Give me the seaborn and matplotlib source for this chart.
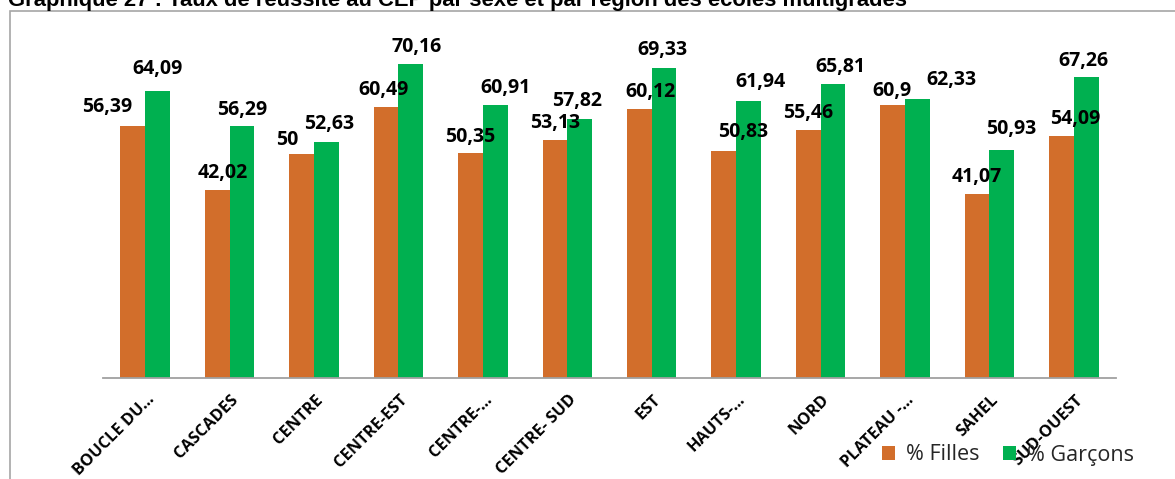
import matplotlib
matplotlib.use("Agg")
import matplotlib.pyplot as plt
import matplotlib.transforms as mtransforms
from matplotlib.patches import Rectangle, Patch
import seaborn as sns
import pandas as pd

# ---- data ----
regions = ["BOUCLE DU...", "CASCADES", "CENTRE", "CENTRE-EST", "CENTRE-...",
           "CENTRE- SUD", "EST", "HAUTS-...", "NORD", "PLATEAU -...", "SAHEL",
           "SUD-OUEST"]
filles = [56.39, 42.02, 50, 60.49, 50.35, 53.13, 60.12, 50.83, 55.46, 60.9, 41.07, 54.09]
garcons = [64.09, 56.29, 52.63, 70.16, 60.91, 57.82, 69.33, 61.94, 65.81, 62.33, 50.93, 67.26]
filles_labels = ["56,39", "42,02", "50", "60,49", "50,35", "53,13", "60,12", "50,83",
                 "55,46", "60,9", "41,07", "54,09"]
garcons_labels = ["64,09", "56,29", "52,63", "70,16", "60,91", "57,82", "69,33", "61,94",
                  "65,81", "62,33", "50,93", "67,26"]
series_names = ["% Filles", "% Garçons"]
title = "Graphique 27 : Taux de réussite au CEP par sexe et par région des écoles multigrades"

# ---- label placement (pixels, relative to bar centre / bar top) ----
dx_f = [-26, 6, -14, -3, 0, 0, 11, 19, 0, -1, 0, 14]
dy_f = [14, 12, 9, 12, 11, 12.5, 12, 14, 11.5, 9.5, 12.5, 12]
dx_g = [0, 0, 3, 6, 10, -3, -2, 12, 7, 34, 9, -3]
dy_g = [17, 11, 13.5, 12, 12, 13, 12.7, 14, 12, 14, 16, 11]

ORANGE = "#D26E2B"
GREEN = "#00B050"

df = pd.DataFrame({
    "region": regions * 2,
    "serie": [series_names[0]] * len(regions) + [series_names[1]] * len(regions),
    "value": filles + garcons,
})

sns.set_theme(style="white")
W, H = 1175, 479
fig = plt.figure(figsize=(W / 100, H / 100), dpi=100)
fig.patch.set_facecolor("white")

ax_l, ax_r, ax_b = 103 / W, 1116 / W, 1 - 378 / H
ymax = 80
ax_t = 1 - (378 - ymax * 4.475) / H
ax = fig.add_axes([ax_l, ax_b, ax_r - ax_l, ax_t - ax_b])
ax.set_facecolor("none")

sns.barplot(data=df, x="region", y="value", hue="serie", order=regions,
            hue_order=series_names, palette=[ORANGE, GREEN], width=0.587,
            saturation=1, linewidth=0, ax=ax, legend=False)

ax.set_ylim(0, ymax)
ax.set_xlim(-0.5, len(regions) - 0.5)
ax.set_xlabel("")
ax.set_ylabel("")
ax.set_yticks([])
for s in ["left", "right", "top"]:
    ax.spines[s].set_visible(False)
ax.spines["bottom"].set_color("#A0A0A0")
ax.spines["bottom"].set_linewidth(1.3)

ax.tick_params(axis="x", length=0, pad=10)
ax.set_xticks(range(len(regions)))
ax.set_xticklabels(regions, rotation=45, ha="right", va="top",
                   rotation_mode="anchor", family="Open Sans",
                   fontweight="bold", fontsize=11.8, color="#000000")
shift = mtransforms.ScaledTranslation(1 / 100, 0, fig.dpi_scale_trans)
for lab in ax.get_xticklabels():
    lab.set_transform(lab.get_transform() + shift)

lab_kw = dict(textcoords="offset pixels", ha="center", va="baseline",
              family="Open Sans", fontweight="bold", fontsize=14, color="#000000")
for i, bar in enumerate(ax.containers[0]):
    x = bar.get_x() + bar.get_width() / 2
    ax.annotate(filles_labels[i], (x, bar.get_height()),
                xytext=(dx_f[i], dy_f[i]), **lab_kw)
for i, bar in enumerate(ax.containers[1]):
    x = bar.get_x() + bar.get_width() / 2
    ax.annotate(garcons_labels[i], (x, bar.get_height()),
                xytext=(dx_g[i], dy_g[i]), **lab_kw)

# chart frame (extends beyond the crop)
fig.add_artist(Rectangle((9.5 / W, -0.2), 1.5, 1.2 - 10.5 / H,
                         transform=fig.transFigure, fill=False,
                         edgecolor="#A6A6A6", linewidth=1.2, zorder=0))

# title, cut off at the top as in the source
fig.text(8 / W, 1 - 6 / H, title, ha="left", va="baseline",
         family="Liberation Sans", fontweight="bold", fontsize=15.8, color="#000000")

handles = [Patch(facecolor=ORANGE, edgecolor="none"),
           Patch(facecolor=GREEN, edgecolor="none")]
leg = fig.legend(handles, series_names, loc="center left",
                 bbox_to_anchor=(882 / W, 1 - 455 / H), ncol=2, frameon=False,
                 prop={"family": "Open Sans", "size": 15.5},
                 handlelength=0.6, handleheight=0.6, handletextpad=0.5,
                 columnspacing=1.1, borderpad=0, borderaxespad=0)
leg.set_zorder(10)

fig.savefig("out.png", dpi=100, facecolor="white")
